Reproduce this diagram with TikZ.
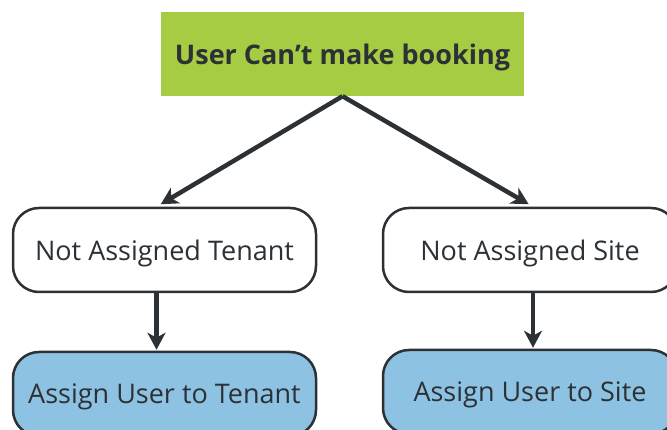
\documentclass[tikz,border=0pt]{standalone}
\usepackage{fontspec}
\setmainfont{Open Sans}
\usetikzlibrary{arrows.meta,positioning}
\definecolor{leaf}{RGB}{166,204,68}
\definecolor{sky}{RGB}{142,194,226}
\definecolor{ink}{RGB}{44,49,54}

\begin{document}
\begin{tikzpicture}[x=1pt,y=-1pt,
  issue/.style={fill=leaf,text=ink,font=\fontsize{27}{31}\selectfont\bfseries,minimum width=363pt,minimum height=84pt,inner sep=0pt,text depth=0pt},
  cause/.style={draw=ink,line width=2.5pt,rounded corners=26pt,fill=white,text=ink,font=\fontsize{27}{31}\selectfont,minimum width=303pt,minimum height=84pt,inner sep=0pt,text depth=0pt},
  fix/.style={cause,fill=sky},
  arr/.style={draw=ink,line width=4.5pt,-{Stealth[length=17pt,width=18pt,inset=5pt]}}]
\useasboundingbox (0,0) rectangle (667,430);
\clip (0,0) rectangle (667,430);

\node[issue] (top) at (342.5,54) {User Can’t make booking};
\node[cause] (tenant) at (164.5,250) {Not Assigned Tenant};
\node[cause,minimum width=294pt] (site) at (530,250) {Not Assigned Site};
\node[fix] (tofix) at (164.5,394) {Assign User to Tenant};
\node[fix,minimum width=294pt] (sitefix) at (530,392) {Assign User to Site};

\draw[arr,shorten >=5pt] (top.south) -- ([xshift=-8pt]tenant.north);
\draw[arr,shorten >=5pt] (top.south) -- ([xshift=3pt]site.north);
\draw[arr,shorten >=1pt] ([xshift=-8pt]tenant.south) -- ([xshift=-8pt]tofix.north);
\draw[arr,shorten >=1pt] ([xshift=3pt]site.south) -- ([xshift=3pt]sitefix.north);
\end{tikzpicture}
\end{document}
